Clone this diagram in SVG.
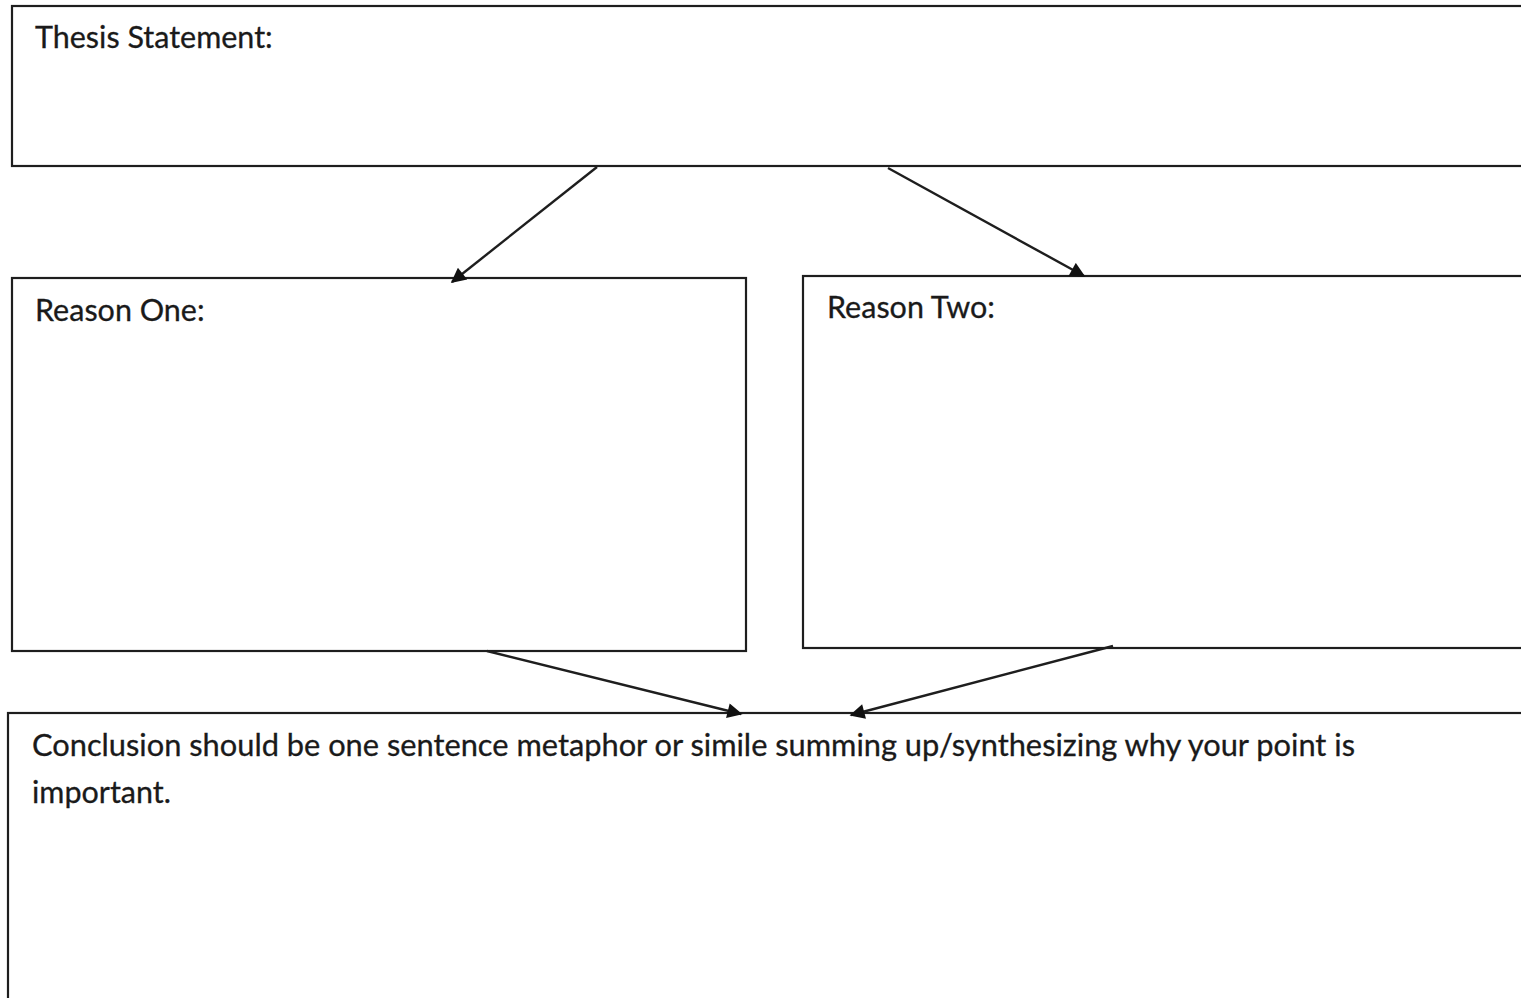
<svg xmlns="http://www.w3.org/2000/svg" width="1521" height="998" viewBox="0 0 1521 998">
<style>
.box{fill:#fff;stroke:#1e1e1e;stroke-width:2.2}
.lbl{font-family:Lato,"Open Sans","Liberation Sans",sans-serif;font-size:30.5px;fill:#1a1a1a;stroke:#1a1a1a;stroke-width:0.3}
.con{stroke:#1e1e1e;stroke-width:2.4;fill:none;marker-end:url(#ah)}
</style>
<defs>
<marker id="ah" viewBox="0 0 10 10" refX="9" refY="5" markerWidth="17" markerHeight="15" markerUnits="userSpaceOnUse" orient="auto">
<path d="M0,0 L10,5 L0,10 z" fill="#111"/>
</marker>
</defs>
<rect width="1521" height="998" fill="#fff"/>
<g id="thesis">
<rect class="box" x="12" y="6" width="1530" height="160"/>
<text class="lbl" x="35" y="48">Thesis Statement:</text>
</g>
<g id="reason-one">
<rect class="box" x="12" y="278" width="734" height="373"/>
<text class="lbl" x="35" y="321">Reason One:</text>
</g>
<g id="reason-two">
<rect class="box" x="803" y="276" width="740" height="372"/>
<text class="lbl" x="827" y="318">Reason Two:</text>
</g>
<g id="conclusion">
<rect class="box" x="8" y="713" width="1540" height="300"/>
<text class="lbl" x="32" y="756" textLength="1323" lengthAdjust="spacingAndGlyphs">Conclusion should be one sentence metaphor or simile summing up/synthesizing why your point is</text>
<text class="lbl" x="32" y="803">important.</text>
</g>
<g id="connectors">
<line class="con" x1="597" y1="167" x2="452" y2="282"/>
<line class="con" x1="888" y1="168" x2="1084" y2="276"/>
<line class="con" x1="487" y1="651" x2="741" y2="714"/>
<line class="con" x1="1113" y1="646" x2="851" y2="715"/>
</g>
</svg>
